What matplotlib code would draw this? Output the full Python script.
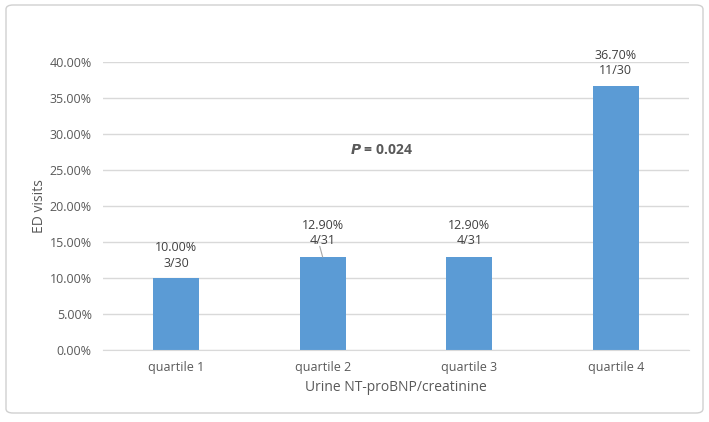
import matplotlib.pyplot as plt
from matplotlib.patches import FancyBboxPatch
from matplotlib.ticker import FuncFormatter

categories = ["quartile 1", "quartile 2", "quartile 3", "quartile 4"]
rates = [0.10, 0.129, 0.129, 0.367]
counts = ["3/30", "4/31", "4/31", "11/30"]
pct_labels = ["10.00%", "12.90%", "12.90%", "36.70%"]
p_text = "= 0.024"

plt.rcParams["font.family"] = ["Open Sans", "DejaVu Sans"]
grey = "#595959"
bar_color = "#5B9BD5"

fig = plt.figure(figsize=(7.09, 4.22), dpi=100)
ax = fig.add_axes([0.145, 0.1706, 0.827, 0.6825])

# rounded frame like the Excel chart area
fig.patches.append(FancyBboxPatch((6 / 709, 9 / 422), 697 / 709, 408 / 422,
                                  boxstyle="round,pad=0,rounding_size=0.01",
                                  transform=fig.transFigure, fill=False,
                                  edgecolor="#d0d0d0", linewidth=1.0))

x = range(len(categories))
ax.bar(x, rates, width=0.315, color=bar_color, zorder=3)

ax.set_ylim(0, 0.40)
ax.set_xlim(-0.5, len(categories) - 0.5)
ax.set_yticks([i * 0.05 for i in range(9)])
ax.yaxis.set_major_formatter(FuncFormatter(lambda v, _: f"{v * 100:.2f}%"))
ax.set_xticks(list(x))
ax.set_xticklabels(categories)
ax.tick_params(axis="both", length=0, labelsize=9, colors=grey, pad=8)
ax.grid(axis="y", color="#d9d9d9", linewidth=1, zorder=0)
for s in ["top", "right", "left"]:
    ax.spines[s].set_visible(False)
ax.spines["bottom"].set_color("#d9d9d9")
ax.spines["bottom"].set_zorder(4)

ax.set_ylabel("ED visits", fontsize=10, color=grey, labelpad=2)
ax.set_xlabel("Urine NT-proBNP/creatinine", fontsize=10, color=grey, labelpad=4)

# data labels (quartile 2 label is lifted with a leader line)
for i, (r, pl, c) in enumerate(zip(rates, pct_labels, counts)):
    lift = 7 if i in (1, 2) else 6
    ax.annotate(f"{pl}\n{c}", xy=(i, r), xytext=(0, lift), textcoords="offset points",
                ha="center", va="bottom", fontsize=9, color="#404040",
                linespacing=1.25, annotation_clip=False)
ax.annotate("", xy=(1, rates[1]), xytext=(-0.02 + 1, rates[1] + 0.015),
            arrowprops=dict(arrowstyle="-", color="#a6a6a6", lw=0.8,
                            shrinkA=0, shrinkB=0), zorder=5)

ax.text(1.4, 0.278, r"$\mathbfit{P}$" + " " + p_text, ha="center", va="center",
        fontsize=10, fontweight="bold", color=grey)

fig.savefig("out.png", dpi=100)
